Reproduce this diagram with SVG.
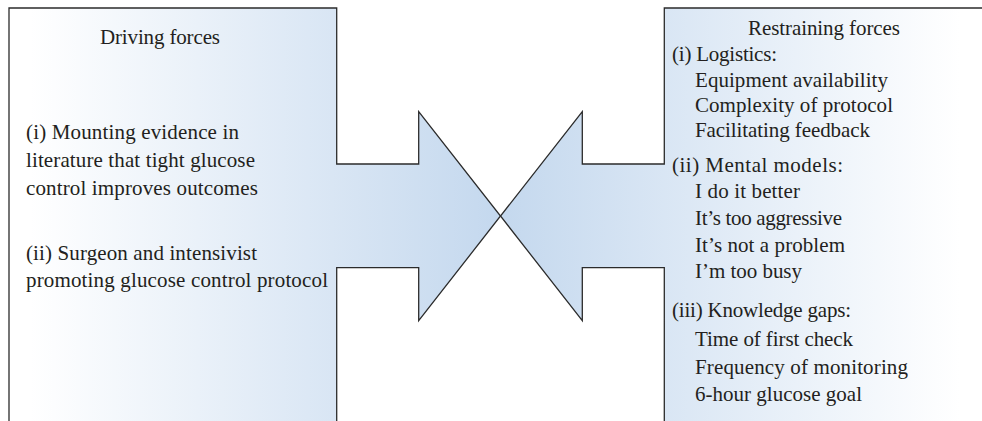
<svg xmlns="http://www.w3.org/2000/svg" width="982" height="421" viewBox="0 0 982 421">
<defs>
<linearGradient id="gL" gradientUnits="userSpaceOnUse" x1="30" y1="0" x2="500" y2="0">
<stop offset="0" stop-color="#ffffff"/>
<stop offset="1" stop-color="#c4d8ee"/>
</linearGradient>
<linearGradient id="gR" gradientUnits="userSpaceOnUse" x1="500" y1="0" x2="960" y2="0">
<stop offset="0" stop-color="#c4d8ee"/>
<stop offset="1" stop-color="#ffffff"/>
</linearGradient>
</defs>
<style>
.shape{stroke:#2b2b2b;stroke-width:1.3;stroke-linejoin:miter}
text{font-family:"Liberation Serif","Times New Roman",serif;font-size:21px;fill:#231f20}
</style>
<g id="driving">
<path class="shape" fill="url(#gL)" d="M9,8 H336.7 V164 H418.7 V111.7 L500.5,216 L418.7,320.7 V267.7 H336.7 V440 H9 Z"/>
<text x="100" y="44" textLength="120" lengthAdjust="spacing">Driving forces</text>
<text x="26" y="139" textLength="213" lengthAdjust="spacing">(i) Mounting evidence in</text>
<text x="26" y="167" textLength="229" lengthAdjust="spacing">literature that tight glucose</text>
<text x="26" y="195" textLength="232" lengthAdjust="spacing">control improves outcomes</text>
<text x="26" y="260" textLength="231" lengthAdjust="spacing">(ii) Surgeon and intensivist</text>
<text x="26" y="287" textLength="302" lengthAdjust="spacing">promoting glucose control protocol</text>
</g>
<g id="restraining">
<path class="shape" fill="url(#gR)" d="M995,8 H664.3 V164 H582.3 V111.7 L500.5,216 L582.3,320.7 V267.7 H664.3 V440 H995 Z"/>
<text x="748" y="35" textLength="152" lengthAdjust="spacing">Restraining forces</text>
<text x="672" y="61" textLength="105" lengthAdjust="spacing">(i) Logistics:</text>
<text x="695" y="87" textLength="193" lengthAdjust="spacing">Equipment availability</text>
<text x="695" y="112" textLength="198" lengthAdjust="spacing">Complexity of protocol</text>
<text x="695" y="137" textLength="175" lengthAdjust="spacing">Facilitating feedback</text>
<text x="672" y="172" textLength="171" lengthAdjust="spacing">(ii) Mental models:</text>
<text x="695" y="198" textLength="105" lengthAdjust="spacing">I do it better</text>
<text x="695" y="225" textLength="147" lengthAdjust="spacing">It’s too aggressive</text>
<text x="695" y="252" textLength="150" lengthAdjust="spacing">It’s not a problem</text>
<text x="695" y="278" textLength="107" lengthAdjust="spacing">I’m too busy</text>
<text x="672" y="317" textLength="179" lengthAdjust="spacing">(iii) Knowledge gaps:</text>
<text x="695" y="346" textLength="158" lengthAdjust="spacing">Time of first check</text>
<text x="695" y="374" textLength="213" lengthAdjust="spacing">Frequency of monitoring</text>
<text x="695" y="401" textLength="167" lengthAdjust="spacing">6-hour glucose goal</text>
</g>
</svg>
